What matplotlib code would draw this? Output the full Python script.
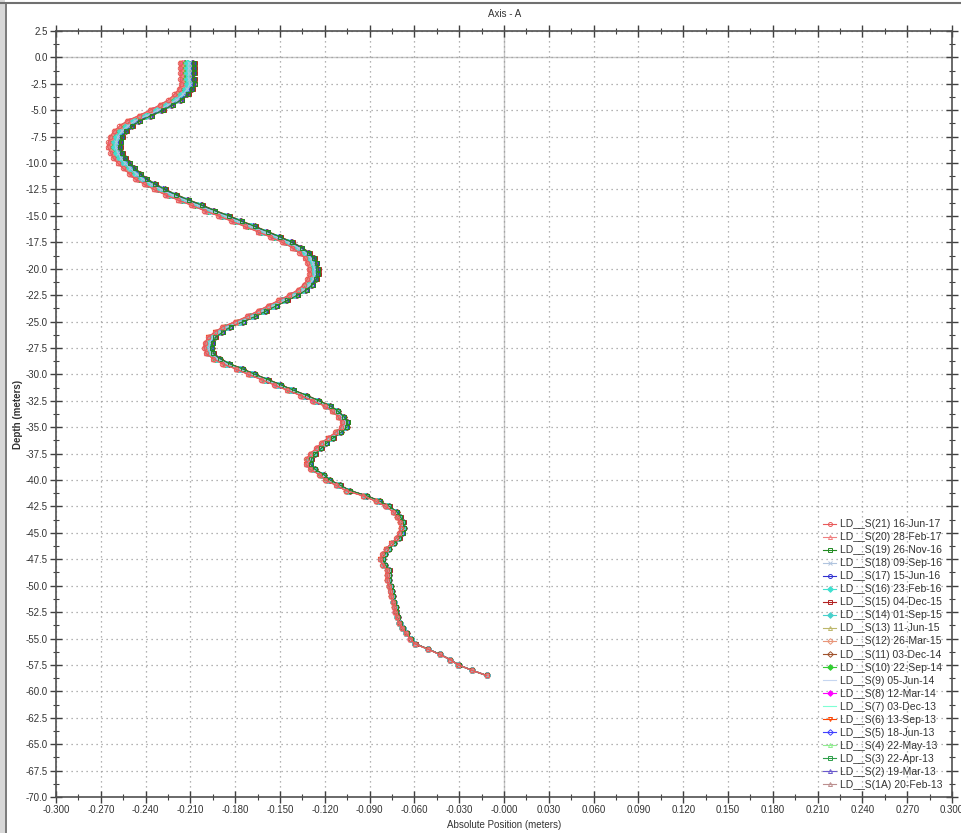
import numpy as np
import matplotlib
matplotlib.use("Agg")
import matplotlib.pyplot as plt
from matplotlib.lines import Line2D
from matplotlib.patches import Rectangle
from matplotlib.ticker import MultipleLocator, FuncFormatter

plt.rcParams['font.family'] = ['Liberation Sans', 'DejaVu Sans']

# depth of each reading (m), top to bottom
depths = [-0.5 * (i + 1) for i in range(117)]

# mean absolute position of the survey bundle at each depth (m)
base_position = [
    -0.2120, -0.2120, -0.2120, -0.2120, -0.2115, -0.2130, -0.2160, -0.2200, -0.2260, -0.2326,
    -0.2400, -0.2480, -0.2530, -0.2570, -0.2595, -0.2605, -0.2610, -0.2594, -0.2575, -0.2545,
    -0.2510, -0.2470, -0.2430, -0.2370, -0.2305, -0.2230, -0.2145, -0.2055, -0.1970, -0.1875,
    -0.1790, -0.1700, -0.1614, -0.1530, -0.1450, -0.1385, -0.1335, -0.1300, -0.1285, -0.1275,
    -0.1272, -0.1285, -0.1310, -0.1350, -0.1410, -0.1480, -0.1550, -0.1620, -0.1690, -0.1770,
    -0.1857, -0.1910, -0.1957, -0.1975, -0.1980, -0.1970, -0.1925, -0.1860, -0.1770, -0.1690,
    -0.1600, -0.1515, -0.1430, -0.1340, -0.1260, -0.1180, -0.1130, -0.1090, -0.1065, -0.1070,
    -0.1110, -0.1160, -0.1205, -0.1240, -0.1280, -0.1305, -0.1310, -0.1280, -0.1220, -0.1180,
    -0.1110, -0.1045, -0.0930, -0.0845, -0.0780, -0.0730, -0.0705, -0.0685, -0.0680, -0.0690,
    -0.0710, -0.0745, -0.0780, -0.0805, -0.0820, -0.0805, -0.0775, -0.0775, -0.0775, -0.0765,
    -0.0755, -0.0750, -0.0740, -0.0730, -0.0725, -0.0715, -0.0700, -0.0680, -0.0655, -0.0625,
    -0.0595, -0.0510, -0.0430, -0.0360, -0.0305, -0.0216, -0.0116,
]

labels = [
    "LD__S(21) 16-Jun-17", "LD__S(20) 28-Feb-17", "LD__S(19) 26-Nov-16", "LD__S(18) 09-Sep-16",
    "LD__S(17) 15-Jun-16", "LD__S(16) 23-Feb-16", "LD__S(15) 04-Dec-15", "LD__S(14) 01-Sep-15",
    "LD__S(13) 11-Jun-15", "LD__S(12) 26-Mar-15", "LD__S(11) 03-Dec-14", "LD__S(10) 22-Sep-14",
    "LD__S(9) 05-Jun-14", "LD__S(8) 12-Mar-14", "LD__S(7) 03-Dec-13", "LD__S(6) 13-Sep-13",
    "LD__S(5) 18-Jun-13", "LD__S(4) 22-May-13", "LD__S(3) 22-Apr-13", "LD__S(2) 19-Mar-13",
    "LD__S(1A) 20-Feb-13",
]

# shift of each survey at the top of the hole (m), fading to zero at the bottom
top_shift = [-0.0050, -0.0045, 0.0045, 0.0010, 0.0035, 0.0005, 0.0050, -0.0005, 0.0025, -0.0035,
             0.0040, -0.0015, -0.0010, -0.0025, 0.0000, -0.0040, 0.0030, -0.0020, 0.0020, 0.0015,
             -0.0030]

colors = ["#e85a5a", "#f08080", "#228b22", "#b0c4de", "#3030d0", "#40e0d0", "#b22222",
          "#48d1cc", "#bdb76b", "#e9967a", "#a0522d", "#32cd32", "#c6d6f0", "#ff00ff",
          "#7fffd4", "#ff4500", "#4040ff", "#90ee90", "#2e9e4a", "#6a5acd", "#bc8f8f"]
markers = ["o", "^", "s", "x", "o", "D", "s", "D", "^", "D", "D", "D", "_", "D",
           "_", "v", "D", "^", "s", "^", "^"]
filled = [False, False, False, False, False, True, False, True, False, False, False, True,
          False, True, False, False, False, False, False, False, False]

fig = plt.figure(figsize=(9.62, 8.33), dpi=100)
ax = fig.add_axes([56 / 962, 1 - 797 / 833, 896 / 962, (797 - 31) / 833])

d = np.array(depths)
taper = (d - d[-1]) / (d[0] - d[-1])
n = len(labels)
for k in range(n):
    x = np.array(base_position) + top_shift[k] * taper
    ax.plot(x, d, color=colors[k], lw=0.8, marker=markers[k], markersize=3.2,
            markeredgewidth=0.7, markerfacecolor=colors[k] if filled[k] else "none",
            markeredgecolor=colors[k], label=labels[k], zorder=3 + n - k)

ax.set_xlim(-0.3, 0.3)
ax.set_ylim(-70, 2.5)
ax.xaxis.set_major_locator(MultipleLocator(0.03))
ax.xaxis.set_minor_locator(MultipleLocator(0.015))
ax.yaxis.set_major_locator(MultipleLocator(2.5))
ax.yaxis.set_minor_locator(MultipleLocator(1.25))
ax.xaxis.set_major_formatter(FuncFormatter(lambda v, p: "-0.000" if abs(v) < 1e-9 else "%.3f" % v))
ax.yaxis.set_major_formatter(FuncFormatter(lambda v, p: "%.1f" % v))

ax.tick_params(which="major", direction="inout", length=8, width=1, color="#404040",
               labelsize=7, labelcolor="#333333", top=True, right=True, pad=2)
ax.tick_params(which="minor", direction="inout", length=4, width=0.8, color="#404040",
               top=True, right=True)
for s in ax.spines.values():
    s.set_color("#505050")
    s.set_linewidth(1.2)

ax.grid(True, which="major", color="#9a9a9a", linestyle=(0, (1, 3)), linewidth=0.9)
ax.axvline(0, color="#c8c8c8", lw=1, zorder=1)
ax.axhline(0, color="#c8c8c8", lw=1, zorder=1)

ax.set_xlabel("Absolute Position (meters)", fontsize=7, color="#333333", labelpad=3)
ax.set_ylabel("Depth (meters)", fontsize=7, color="#333333", fontweight="bold", labelpad=2)
fig.text(505 / 962, 1 - 14 / 833, "Axis - A", fontsize=7, color="#333333", ha="center", va="center")

leg = ax.legend(loc="lower right", bbox_to_anchor=(0.997, 0.0), frameon=False, fontsize=7.5,
                labelspacing=0.29, handlelength=1.3, handletextpad=0.3, borderpad=0.2,
                markerscale=0.9)
for t in leg.get_texts():
    t.set_color("#333333")

# window frame of the original screenshot
fig.add_artist(Rectangle((0, 0), 5 / 962, 1, transform=fig.transFigure, color="#d8d8d8", lw=0))
fig.add_artist(Line2D([6 / 962, 6 / 962], [0, 1 - 3 / 833], transform=fig.transFigure, color="#707070", lw=1.3))
fig.add_artist(Line2D([0, 1], [1 - 3 / 833, 1 - 3 / 833], transform=fig.transFigure, color="#707070", lw=1.5))

fig.savefig("out.png", dpi=100)
